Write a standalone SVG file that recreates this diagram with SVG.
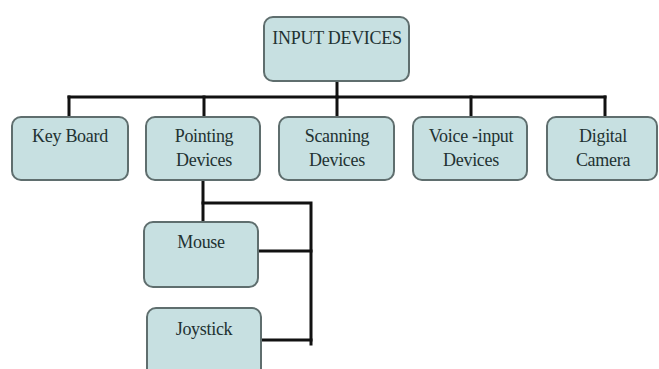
<svg xmlns="http://www.w3.org/2000/svg" width="659" height="369" viewBox="0 0 659 369">
  <style>
    .box { fill: #c7e0e1; stroke: #5f6e6e; stroke-width: 2; }
    .lbl { font-family: "Liberation Serif", "Times New Roman", serif; font-size: 18px; letter-spacing: -0.3px; fill: #223232; text-anchor: middle; }
    .wire { fill: none; stroke: #111; stroke-width: 3; stroke-linecap: square; }
  </style>
  <rect width="659" height="369" fill="#ffffff"/>

  <!-- connectors -->
  <g id="connectors" class="wire">
    <path d="M337 81 V97"/>
    <path d="M69 97 H605"/>
    <path d="M69 97 V117 M204 97 V117 M337 97 V117 M471 97 V117 M605 97 V117"/>
    <path d="M203 180 V222"/>
    <path d="M203 203 H311 V344"/>
    <path d="M258 251 H311"/>
    <path d="M261 340 H311"/>
  </g>

  <g id="input-devices">
    <rect class="box" x="264" y="17" width="145" height="64" rx="9"/>
    <text class="lbl" x="337" y="44">INPUT DEVICES</text>
  </g>

  <g id="key-board">
    <rect class="box" x="12" y="117" width="116" height="63" rx="9"/>
    <text class="lbl" x="70" y="142">Key Board</text>
  </g>

  <g id="pointing-devices">
    <rect class="box" x="146" y="117" width="114" height="63" rx="9"/>
    <text class="lbl" x="204" y="142">Pointing</text>
    <text class="lbl" x="204" y="166">Devices</text>
  </g>

  <g id="scanning-devices">
    <rect class="box" x="279" y="117" width="115" height="63" rx="9"/>
    <text class="lbl" x="337" y="142">Scanning</text>
    <text class="lbl" x="337" y="166">Devices</text>
  </g>

  <g id="voice-input-devices">
    <rect class="box" x="413" y="117" width="114" height="63" rx="9"/>
    <text class="lbl" x="471" y="142">Voice -input</text>
    <text class="lbl" x="471" y="166">Devices</text>
  </g>

  <g id="digital-camera">
    <rect class="box" x="547" y="117" width="110" height="63" rx="9"/>
    <text class="lbl" x="603" y="142">Digital</text>
    <text class="lbl" x="603" y="166">Camera</text>
  </g>

  <g id="mouse">
    <rect class="box" x="144" y="222" width="114" height="65" rx="9"/>
    <text class="lbl" x="201" y="248">Mouse</text>
  </g>

  <g id="joystick">
    <rect class="box" x="147" y="308" width="114" height="70" rx="9"/>
    <text class="lbl" x="204" y="335">Joystick</text>
  </g>
</svg>
